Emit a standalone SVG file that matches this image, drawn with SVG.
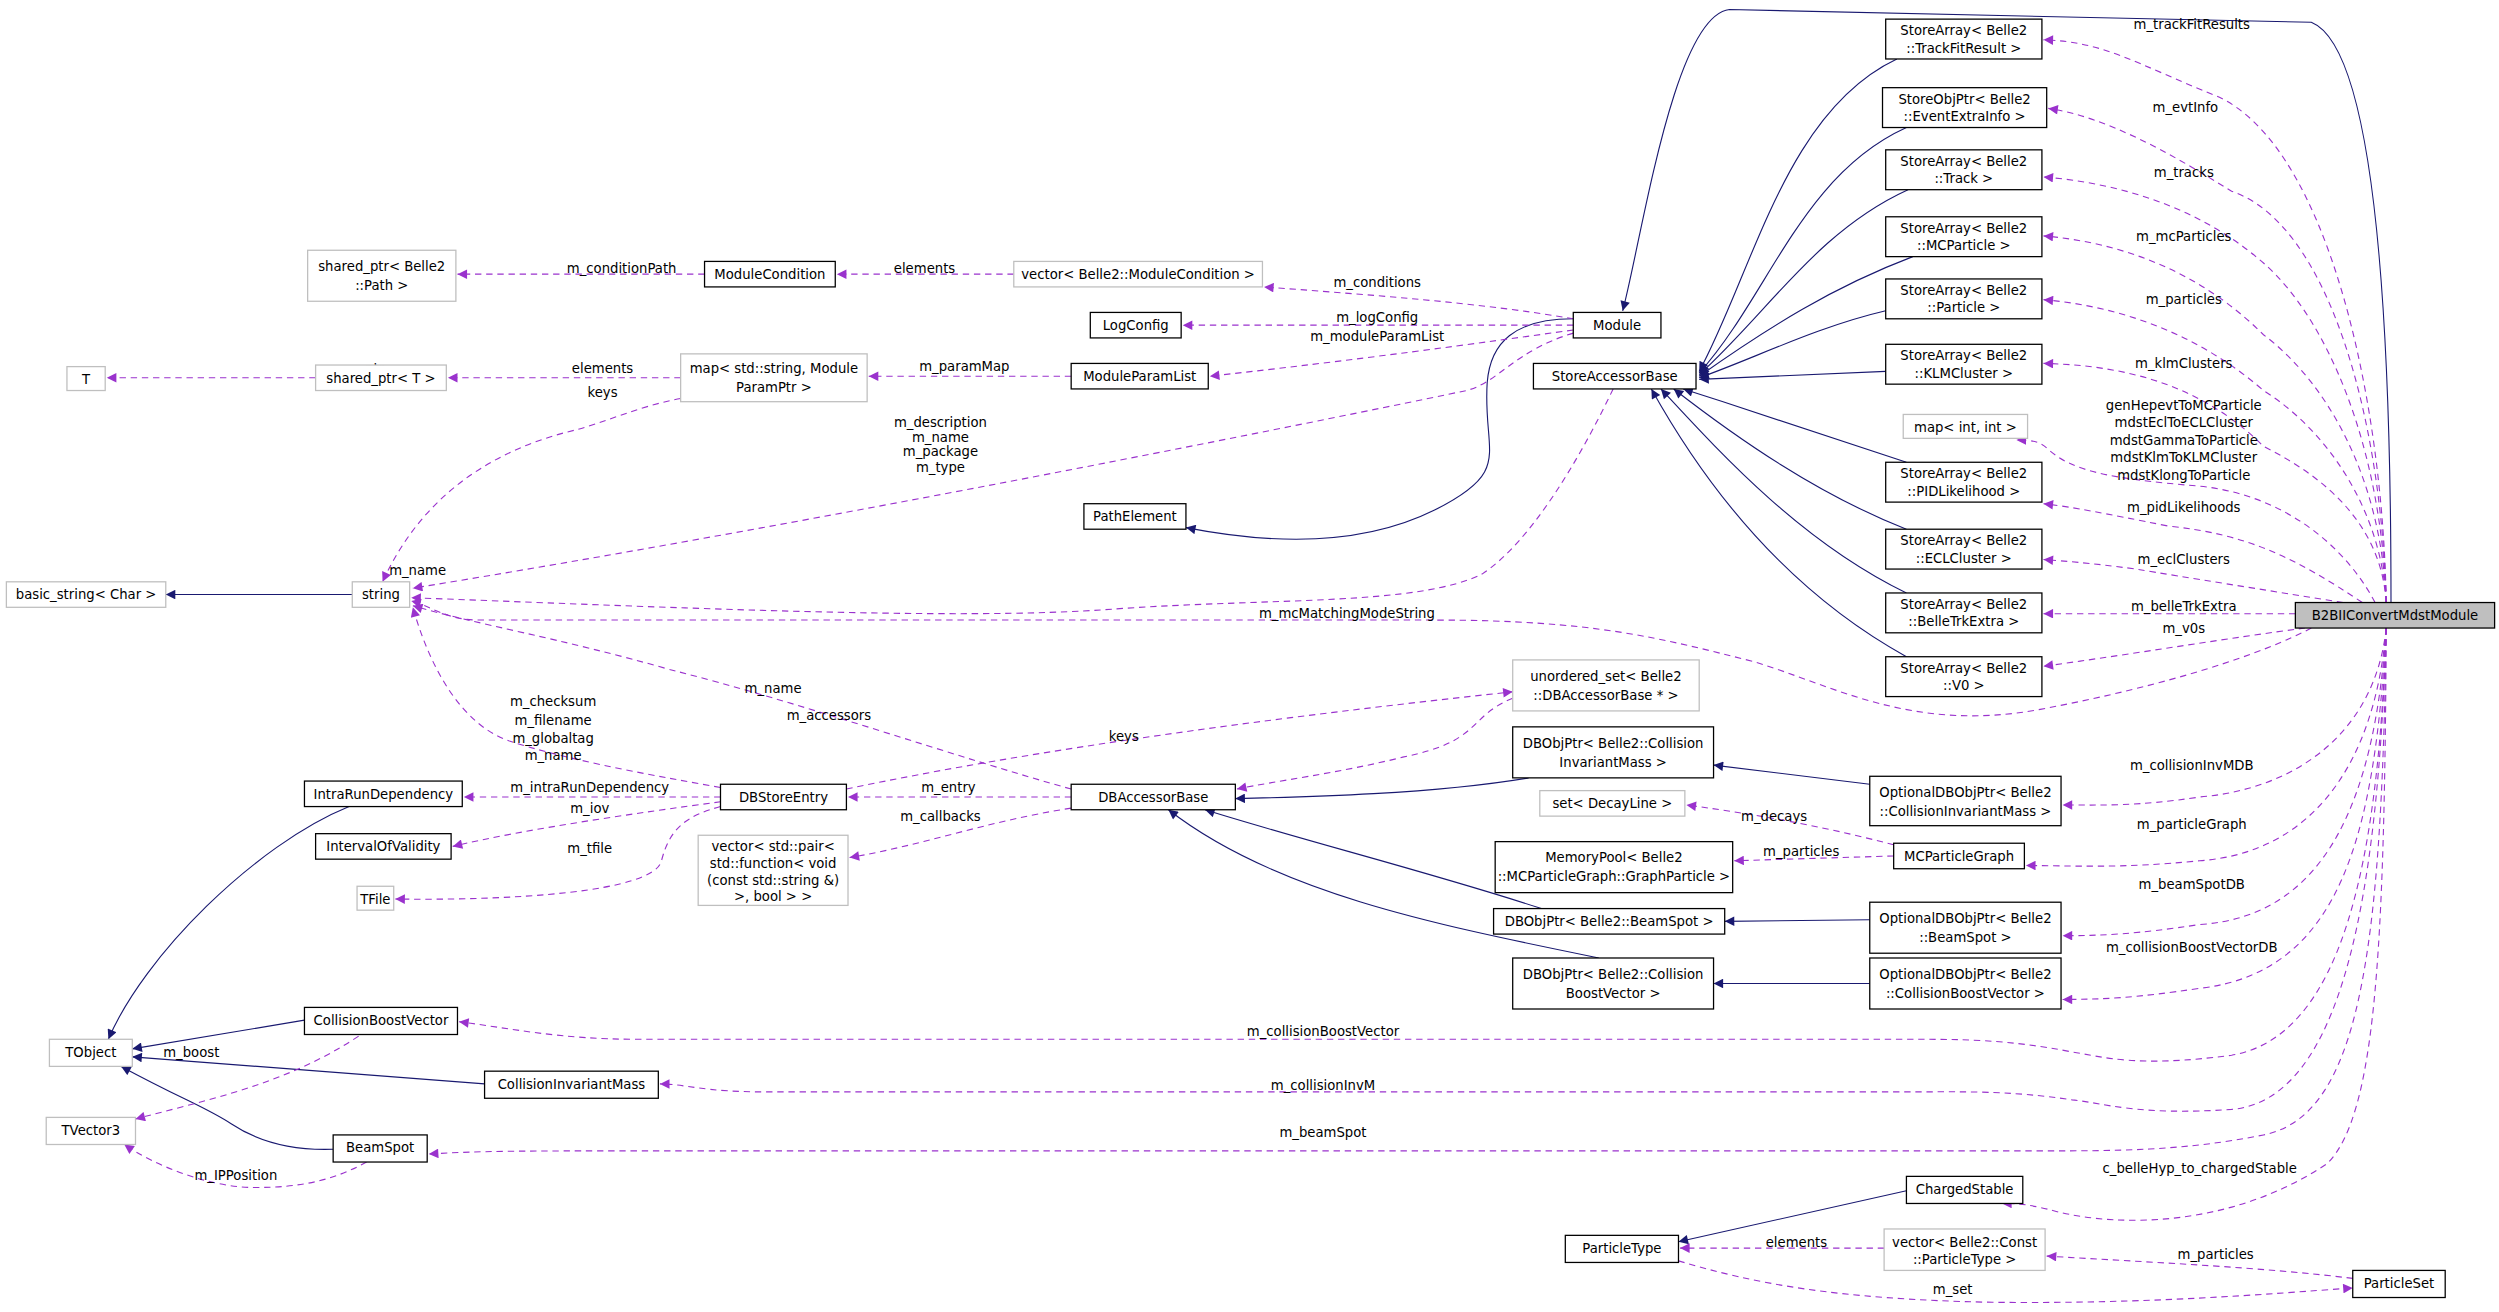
<svg xmlns="http://www.w3.org/2000/svg" width="2499" height="1312" viewBox="0 0 2499 1312">
<defs>
<style>
text{font-family:"DejaVu Sans","Liberation Sans",sans-serif;font-size:8.3px;fill:#000;text-anchor:middle}
.n rect{fill:#fff;stroke:#000;stroke-width:0.8}
.g rect{fill:#fff;stroke:#bfbfbf;stroke-width:0.8}
.hl rect{fill:#bfbfbf;stroke:#000;stroke-width:0.8}
.d{fill:none;stroke:#9a32cd;stroke-width:0.7;stroke-dasharray:4,3;marker-end:url(#ap)}
.s{fill:none;stroke:#191970;stroke-width:0.7;marker-end:url(#an)}
</style>
<marker id="ap" viewBox="0 0 10 10" refX="10" refY="5" markerWidth="7" markerHeight="6" markerUnits="userSpaceOnUse" orient="auto"><path d="M0,0L10,5L0,10z" fill="#9a32cd"/></marker>
<marker id="an" viewBox="0 0 10 10" refX="10" refY="5" markerWidth="7" markerHeight="6" markerUnits="userSpaceOnUse" orient="auto"><path d="M0,0L10,5L0,10z" fill="#191970"/></marker>
</defs>
<rect width="2499" height="1312" fill="#fff"/>
<g transform="scale(1.594)">
<g id="connectors">
<path class="s" d="M1500,378 C1500,200 1490,30 1450,14 L1085,6 C1050,10 1030,150 1018,195"/>
<path class="s" d="M1190,37 C1120,70 1100,170 1066,233"/>
<path class="s" d="M1196,80 C1130,110 1110,185 1066,234"/>
<path class="s" d="M1197,119 C1140,145 1110,195 1066,235"/>
<path class="s" d="M1200,161 C1150,180 1110,205 1066,236"/>
<path class="s" d="M1183,195 C1140,205 1100,225 1066,237"/>
<path class="s" d="M1183,233 L1066,238"/>
<path class="s" d="M1196,290 C1140,272 1100,258 1056,244"/>
<path class="s" d="M1196,332 C1140,310 1090,275 1050,244"/>
<path class="s" d="M1196,372 C1130,340 1080,285 1042,244"/>
<path class="s" d="M1196,412 C1120,370 1070,305 1036,244"/>
<path class="s" d="M987,200 C950,200 935,215 933,240 C930,285 950,295 900,320 C850,345 790,340 744,331"/>
<path class="s" d="M959,488 C900,498 820,500 775,501"/>
<path class="s" d="M967,570 C900,548 820,528 756,508"/>
<path class="s" d="M1003,601 C900,580 800,560 733,508"/>
<path class="s" d="M1173,492 L1075,480"/>
<path class="s" d="M1173,577 L1082,578"/>
<path class="s" d="M1173,617 L1075,617"/>
<path class="s" d="M221,373 L104,373"/>
<path class="s" d="M219,506 C160,530 90,600 68,652"/>
<path class="s" d="M191,640 L83,658"/>
<path class="s" d="M304,680 L83,663"/>
<path class="s" d="M209,721 C180,722 160,715 145,705 C130,695 115,690 76,669"/>
<path class="s" d="M1196,747 L1053,779"/>
<path class="d" d="M1497,378 C1495,250 1460,90 1390,60 C1340,40 1320,26 1282,25"/>
<path class="d" d="M1497,378 C1494,260 1460,140 1400,120 C1360,95 1320,73 1285,68"/>
<path class="d" d="M1497,378 C1494,280 1460,200 1420,165 C1380,130 1330,115 1282,111"/>
<path class="d" d="M1497,378 C1494,300 1460,240 1420,210 C1380,170 1330,152 1282,148"/>
<path class="d" d="M1497,378 C1494,320 1460,270 1420,245 C1380,210 1330,192 1282,188"/>
<path class="d" d="M1497,378 C1494,330 1460,300 1420,280 C1380,240 1330,229 1282,228"/>
<path class="d" d="M1490,378 C1470,340 1430,310 1380,305 C1320,300 1300,295 1285,282 C1280,277 1275,276 1265,276"/>
<path class="d" d="M1482,378 C1440,350 1410,335 1360,330 C1320,322 1300,318 1282,316"/>
<path class="d" d="M1470,378 C1420,370 1370,362 1340,357 C1310,353 1295,352 1282,351"/>
<path class="d" d="M1440,385 L1282,385"/>
<path class="d" d="M1446,394 C1400,400 1340,410 1282,418"/>
<path class="d" d="M1450,394 C1420,410 1360,430 1280,445 C1200,460 1150,430 1100,415 C1040,400 1000,389 900,389 L300,389 C280,389 270,380 258,377"/>
<path class="d" d="M1497,394 C1490,460 1440,495 1380,500 C1340,506 1320,505 1294,505"/>
<path class="d" d="M1497,394 C1490,480 1450,535 1380,540 C1330,545 1300,543 1271,543"/>
<path class="d" d="M1497,394 C1490,500 1460,575 1380,580 C1340,586 1320,587 1294,587"/>
<path class="d" d="M1497,394 C1490,520 1470,610 1380,620 C1340,626 1320,627 1294,627"/>
<path class="d" d="M1497,394 C1492,540 1470,650 1400,662 C1340,670 1320,663 1300,660 C1260,652 1230,652 1200,652 L400,652 C350,652 320,645 288,641"/>
<path class="d" d="M1497,394 C1492,560 1470,690 1400,696 C1340,700 1320,692 1300,690 C1260,684 1230,685 1200,685 L480,685 C440,685 430,680 414,680"/>
<path class="d" d="M1497,394 C1494,600 1480,700 1420,712 C1370,722 1330,722 1280,722 L400,722 C330,722 300,722 269,724"/>
<path class="d" d="M1497,394 C1496,600 1490,700 1460,730 C1400,770 1330,770 1290,760 C1275,756 1268,755 1256,755"/>
<path class="d" d="M636,172 L525,172"/>
<path class="d" d="M987,200 C930,190 860,185 793,180"/>
<path class="d" d="M987,204 L742,204"/>
<path class="d" d="M987,207 C930,215 850,226 759,236"/>
<path class="d" d="M987,209 C950,220 940,240 920,245 C800,270 500,330 259,369"/>
<path class="d" d="M442,172 L287,172"/>
<path class="d" d="M672,236 L545,236"/>
<path class="d" d="M427,237 L281,237"/>
<path class="d" d="M427,250 C400,255 380,265 360,270 C310,282 265,310 240,365"/>
<path class="d" d="M198,237 L67,237"/>
<path class="d" d="M1012,244 C990,290 960,340 930,360 C890,380 800,375 700,382 C600,390 400,380 258,375"/>
<path class="d" d="M672,495 C600,475 500,440 420,420 C350,400 300,392 259,380"/>
<path class="d" d="M452,494 C400,485 350,475 320,465 C290,455 270,420 259,381"/>
<path class="d" d="M452,500 L291,500"/>
<path class="d" d="M452,503 C400,510 330,520 284,531"/>
<path class="d" d="M452,506 C430,512 420,520 415,540 C410,560 320,565 248,564"/>
<path class="d" d="M531,495 C650,470 800,450 949,434"/>
<path class="d" d="M672,500 L532,500"/>
<path class="d" d="M672,507 C620,515 580,530 533,538"/>
<path class="d" d="M949,438 C920,450 930,465 880,475 C840,485 800,490 776,495"/>
<path class="d" d="M1188,530 C1150,520 1110,512 1058,505"/>
<path class="d" d="M1188,537 L1088,540"/>
<path class="d" d="M225,650 C180,680 130,690 85,702"/>
<path class="d" d="M230,729 C210,740 190,745 160,745 C130,745 95,730 78,718"/>
<path class="d" d="M1182,783 L1054,783"/>
<path class="d" d="M1476,802 C1420,795 1350,792 1284,788"/>
<path class="d" d="M1053,791 C1100,805 1150,815 1250,817 C1350,818 1420,812 1476,808"/>
<text x="1375" y="18">m_trackFitResults</text>
<text x="1371" y="70">m_evtInfo</text>
<text x="1370" y="111">m_tracks</text>
<text x="1370" y="151">m_mcParticles</text>
<text x="1370" y="191">m_particles</text>
<text x="1370" y="231">m_klmClusters</text>
<text x="1370" y="257">genHepevtToMCParticle</text>
<text x="1370" y="268">mdstEclToECLCluster</text>
<text x="1370" y="279">mdstGammaToParticle</text>
<text x="1370" y="290">mdstKlmToKLMCluster</text>
<text x="1370" y="301">mdstKlongToParticle</text>
<text x="1370" y="321">m_pidLikelihoods</text>
<text x="1370" y="354">m_eclClusters</text>
<text x="1370" y="383">m_belleTrkExtra</text>
<text x="1370" y="397">m_v0s</text>
<text x="1375" y="483">m_collisionInvMDB</text>
<text x="1375" y="520">m_particleGraph</text>
<text x="1375" y="558">m_beamSpotDB</text>
<text x="1375" y="597">m_collisionBoostVectorDB</text>
<text x="830" y="650">m_collisionBoostVector</text>
<text x="830" y="684">m_collisionInvM</text>
<text x="830" y="713">m_beamSpot</text>
<text x="1380" y="736">c_belleHyp_to_chargedStable</text>
<text x="580" y="171">elements</text>
<text x="864" y="180">m_conditions</text>
<text x="864" y="202">m_logConfig</text>
<text x="864" y="214">m_moduleParamList</text>
<text x="590" y="268">m_description</text>
<text x="590" y="277">m_name</text>
<text x="590" y="286">m_package</text>
<text x="590" y="296">m_type</text>
<text x="390" y="171">m_conditionPath</text>
<text x="605" y="233">m_paramMap</text>
<text x="378" y="234">elements</text>
<text x="378" y="249">keys</text>
<text x="235" y="234">ptr</text>
<text x="262" y="361">m_name</text>
<text x="845" y="388">m_mcMatchingModeString</text>
<text x="485" y="435">m_name</text>
<text x="347" y="443">m_checksum</text>
<text x="347" y="455">m_filename</text>
<text x="347" y="466">m_globaltag</text>
<text x="347" y="477">m_name</text>
<text x="370" y="497">m_intraRunDependency</text>
<text x="370" y="510">m_iov</text>
<text x="370" y="535">m_tfile</text>
<text x="520" y="452">m_accessors</text>
<text x="705" y="465">keys</text>
<text x="595" y="497">m_entry</text>
<text x="590" y="515">m_callbacks</text>
<text x="1113" y="515">m_decays</text>
<text x="1130" y="537">m_particles</text>
<text x="120" y="663">m_boost</text>
<text x="148" y="740">m_IPPosition</text>
<text x="1127" y="782">elements</text>
<text x="1390" y="790">m_particles</text>
<text x="1225" y="812">m_set</text>
</g>
<g id="B2BIIConvertMdstModule" class="hl"><rect x="1440" y="378" width="125" height="16"/><text x="1502.5" y="389">B2BIIConvertMdstModule</text></g>
<g id="SA_TrackFitResult" class="n"><rect x="1183" y="12" width="98" height="25"/><text x="1232" y="22">StoreArray&lt; Belle2</text><text x="1232" y="33">::TrackFitResult &gt;</text></g>
<g id="SO_EventExtraInfo" class="n"><rect x="1181" y="55" width="103" height="25"/><text x="1232.5" y="65">StoreObjPtr&lt; Belle2</text><text x="1232.5" y="76">::EventExtraInfo &gt;</text></g>
<g id="SA_Track" class="n"><rect x="1183" y="94" width="98" height="25"/><text x="1232" y="104">StoreArray&lt; Belle2</text><text x="1232" y="115">::Track &gt;</text></g>
<g id="SA_MCParticle" class="n"><rect x="1183" y="136" width="98" height="25"/><text x="1232" y="146">StoreArray&lt; Belle2</text><text x="1232" y="157">::MCParticle &gt;</text></g>
<g id="SA_Particle" class="n"><rect x="1183" y="175" width="98" height="25"/><text x="1232" y="185">StoreArray&lt; Belle2</text><text x="1232" y="196">::Particle &gt;</text></g>
<g id="SA_KLMCluster" class="n"><rect x="1183" y="216" width="98" height="25"/><text x="1232" y="226">StoreArray&lt; Belle2</text><text x="1232" y="237">::KLMCluster &gt;</text></g>
<g id="map_int_int" class="g"><rect x="1194" y="260" width="78" height="15"/><text x="1233" y="271">map&lt; int, int &gt;</text></g>
<g id="SA_PIDLikelihood" class="n"><rect x="1183" y="290" width="98" height="25"/><text x="1232" y="300">StoreArray&lt; Belle2</text><text x="1232" y="311">::PIDLikelihood &gt;</text></g>
<g id="SA_ECLCluster" class="n"><rect x="1183" y="332" width="98" height="25"/><text x="1232" y="342">StoreArray&lt; Belle2</text><text x="1232" y="353">::ECLCluster &gt;</text></g>
<g id="SA_BelleTrkExtra" class="n"><rect x="1183" y="372" width="98" height="25"/><text x="1232" y="382">StoreArray&lt; Belle2</text><text x="1232" y="393">::BelleTrkExtra &gt;</text></g>
<g id="SA_V0" class="n"><rect x="1183" y="412" width="98" height="25"/><text x="1232" y="422">StoreArray&lt; Belle2</text><text x="1232" y="433">::V0 &gt;</text></g>
<g id="Module" class="n"><rect x="987" y="196" width="55" height="16"/><text x="1014.5" y="207">Module</text></g>
<g id="StoreAccessorBase" class="n"><rect x="962" y="228" width="102" height="16"/><text x="1013" y="239">StoreAccessorBase</text></g>
<g id="vec_ModuleCondition" class="g"><rect x="636" y="164" width="156" height="16"/><text x="714" y="175">vector&lt; Belle2::ModuleCondition &gt;</text></g>
<g id="LogConfig" class="n"><rect x="684" y="196" width="57" height="16"/><text x="712.5" y="207">LogConfig</text></g>
<g id="ModuleParamList" class="n"><rect x="672" y="228" width="86" height="16"/><text x="715" y="239">ModuleParamList</text></g>
<g id="PathElement" class="n"><rect x="680" y="316" width="64" height="16"/><text x="712" y="327">PathElement</text></g>
<g id="ModuleCondition" class="n"><rect x="442" y="164" width="82" height="16"/><text x="483" y="175">ModuleCondition</text></g>
<g id="sp_Path" class="g"><rect x="193" y="157" width="93" height="32"/><text x="239.5" y="170">shared_ptr&lt; Belle2</text><text x="239.5" y="182">::Path &gt;</text></g>
<g id="T" class="g"><rect x="42" y="230" width="24" height="15"/><text x="54" y="241">T</text></g>
<g id="sp_T" class="g"><rect x="198" y="229" width="82" height="16"/><text x="239" y="240">shared_ptr&lt; T &gt;</text></g>
<g id="map_ParamPtr" class="g"><rect x="427" y="222" width="117" height="30"/><text x="485.5" y="234">map&lt; std::string, Module</text><text x="485.5" y="246">ParamPtr &gt;</text></g>
<g id="basic_string" class="g"><rect x="4" y="365" width="100" height="16"/><text x="54" y="376">basic_string&lt; Char &gt;</text></g>
<g id="string" class="g"><rect x="221" y="365" width="36" height="16"/><text x="239" y="376">string</text></g>
<g id="uset_DBAccessorBase" class="g"><rect x="949" y="414" width="117" height="32"/><text x="1007.5" y="427">unordered_set&lt; Belle2</text><text x="1007.5" y="439">::DBAccessorBase * &gt;</text></g>
<g id="DBObjPtr_CIM" class="n"><rect x="949" y="456" width="126" height="32"/><text x="1012" y="469">DBObjPtr&lt; Belle2::Collision</text><text x="1012" y="481">InvariantMass &gt;</text></g>
<g id="OptDBObjPtr_CIM" class="n"><rect x="1173" y="487" width="120" height="31"/><text x="1233" y="500">OptionalDBObjPtr&lt; Belle2</text><text x="1233" y="512">::CollisionInvariantMass &gt;</text></g>
<g id="set_DecayLine" class="g"><rect x="966" y="496" width="91" height="16"/><text x="1011.5" y="507">set&lt; DecayLine &gt;</text></g>
<g id="MemoryPool" class="n"><rect x="938" y="528" width="149" height="32"/><text x="1012.5" y="541">MemoryPool&lt; Belle2</text><text x="1012.5" y="553">::MCParticleGraph::GraphParticle &gt;</text></g>
<g id="MCParticleGraph" class="n"><rect x="1188" y="529" width="82" height="16"/><text x="1229" y="540">MCParticleGraph</text></g>
<g id="DBObjPtr_BS" class="n"><rect x="937" y="570" width="145" height="16"/><text x="1009.5" y="581">DBObjPtr&lt; Belle2::BeamSpot &gt;</text></g>
<g id="OptDBObjPtr_BS" class="n"><rect x="1173" y="566" width="120" height="32"/><text x="1233" y="579">OptionalDBObjPtr&lt; Belle2</text><text x="1233" y="591">::BeamSpot &gt;</text></g>
<g id="DBObjPtr_CBV" class="n"><rect x="949" y="601" width="126" height="32"/><text x="1012" y="614">DBObjPtr&lt; Belle2::Collision</text><text x="1012" y="626">BoostVector &gt;</text></g>
<g id="OptDBObjPtr_CBV" class="n"><rect x="1173" y="601" width="120" height="32"/><text x="1233" y="614">OptionalDBObjPtr&lt; Belle2</text><text x="1233" y="626">::CollisionBoostVector &gt;</text></g>
<g id="DBAccessorBase" class="n"><rect x="672" y="492" width="103" height="16"/><text x="723.5" y="503">DBAccessorBase</text></g>
<g id="DBStoreEntry" class="n"><rect x="452" y="492" width="79" height="16"/><text x="491.5" y="503">DBStoreEntry</text></g>
<g id="IntraRunDependency" class="n"><rect x="191" y="490" width="99" height="16"/><text x="240.5" y="501">IntraRunDependency</text></g>
<g id="IntervalOfValidity" class="n"><rect x="198" y="523" width="85" height="16"/><text x="240.5" y="534">IntervalOfValidity</text></g>
<g id="TFile" class="g"><rect x="224" y="556" width="23" height="15"/><text x="235.5" y="567">TFile</text></g>
<g id="vec_pair" class="g"><rect x="438" y="524" width="94" height="44"/><text x="485" y="534">vector&lt; std::pair&lt;</text><text x="485" y="544.5">std::function&lt; void</text><text x="485" y="555">(const std::string &amp;)</text><text x="485" y="565">&gt;, bool &gt; &gt;</text></g>
<g id="TObject" class="g"><rect x="31" y="652" width="52" height="17"/><text x="57" y="663">TObject</text></g>
<g id="TVector3" class="g"><rect x="29" y="701" width="56" height="17"/><text x="57" y="712">TVector3</text></g>
<g id="CollisionBoostVector" class="n"><rect x="191" y="632" width="96" height="17"/><text x="239" y="643">CollisionBoostVector</text></g>
<g id="CollisionInvariantMass" class="n"><rect x="304" y="672" width="109" height="17"/><text x="358.5" y="683">CollisionInvariantMass</text></g>
<g id="BeamSpot" class="n"><rect x="209" y="712" width="59" height="17"/><text x="238.5" y="723">BeamSpot</text></g>
<g id="ChargedStable" class="n"><rect x="1196" y="738" width="73" height="17"/><text x="1232.5" y="749">ChargedStable</text></g>
<g id="ParticleType" class="n"><rect x="982" y="775" width="71" height="17"/><text x="1017.5" y="786">ParticleType</text></g>
<g id="vec_ParticleType" class="g"><rect x="1182" y="771" width="101" height="26"/><text x="1232.5" y="782">vector&lt; Belle2::Const</text><text x="1232.5" y="793">::ParticleType &gt;</text></g>
<g id="ParticleSet" class="n"><rect x="1476" y="797" width="58" height="17"/><text x="1505" y="808">ParticleSet</text></g>
</g>
</svg>
